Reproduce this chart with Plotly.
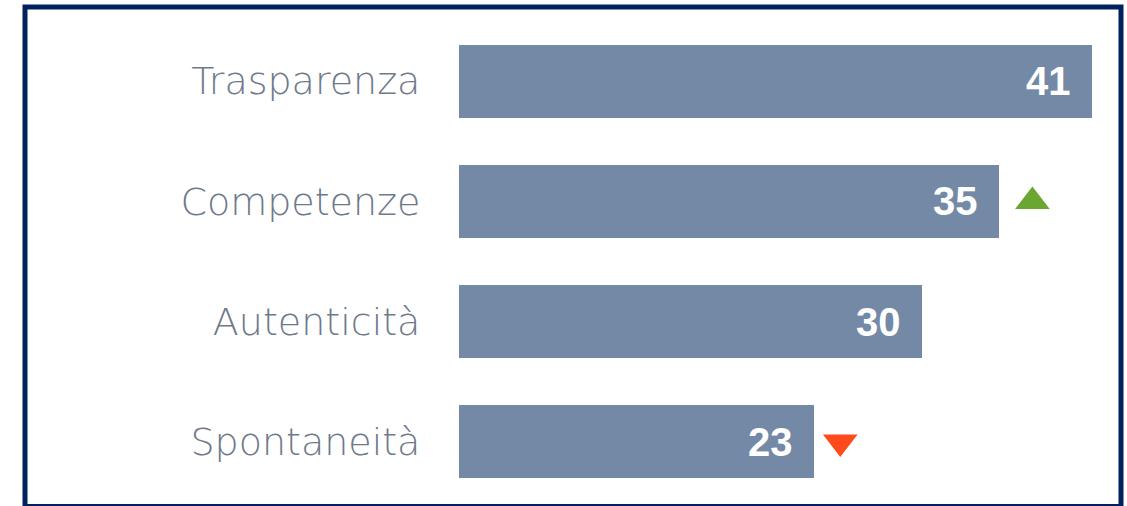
import plotly.graph_objects as go

categories = ["Trasparenza", "Competenze", "Autenticità", "Spontaneità"]
values = [41, 35, 30, 23]
trend = ["", "up", "", "down"]

bar_color = "#7489A6"
label_color = "#6E7A8B"
navy = "#002060"
green = "#6BA631"
red = "#FF4A1C"

fig = go.Figure()
fig.add_trace(go.Bar(
    x=values, y=categories, orientation="h",
    marker=dict(color=bar_color, line=dict(width=0)),
    width=0.607, hoverinfo="skip",
))

up_x = [v + 2.15 for v, t in zip(values, trend) if t == "up"]
up_y = [c for c, t in zip(categories, trend) if t == "up"]
dn_x = [v + 1.7 for v, t in zip(values, trend) if t == "down"]
dn_y = [c for c, t in zip(categories, trend) if t == "down"]
fig.add_trace(go.Scatter(x=up_x, y=up_y, mode="markers",
                         marker=dict(symbol="triangle-up", size=30, color=green, line=dict(width=0)),
                         hoverinfo="skip"))
fig.add_trace(go.Scatter(x=dn_x, y=dn_y, mode="markers",
                         marker=dict(symbol="triangle-down", size=30, color=red, line=dict(width=0)),
                         hoverinfo="skip"))

for c, v in zip(categories, values):
    fig.add_annotation(x=v, y=c, text=str(v), showarrow=False,
                       xanchor="right", yanchor="middle", xshift=-19,
                       font=dict(family="Liberation Sans, Arial", size=40, color="white", weight="bold"))

# frame around chart
L, T, B = 459, 21, 502
W = 1127 - L - 12
H = B - T
def px(x):
    return (x - L) / W
def py(y):
    return (B - y) / H
fig.add_shape(type="rect", xref="paper", yref="paper",
              x0=px(25), x1=px(1121), y0=py(506.5), y1=py(7),
              line=dict(color=navy, width=5), fillcolor="rgba(0,0,0,0)", layer="above")

fig.update_layout(
    width=1127, height=506,
    margin=dict(l=L, r=12, t=T, b=506 - B),
    paper_bgcolor="white", plot_bgcolor="white",
    showlegend=False, bargap=0,
    xaxis=dict(range=[0, 42.5], visible=False, fixedrange=True),
    yaxis=dict(autorange=False, range=[3.5, -0.5], type="category",
               categoryorder="array", categoryarray=categories,
               showgrid=False, zeroline=False, showline=False,
               ticks="outside", ticklen=30, tickcolor="rgba(0,0,0,0)",
               tickfont=dict(family="DejaVu Sans, Open Sans, sans-serif", size=38, color=label_color, weight=200)),
)

fig.write_html("out.html", config={"displayModeBar": False},
               post_script="document.body.style.margin='0';document.body.style.overflow='hidden';")
